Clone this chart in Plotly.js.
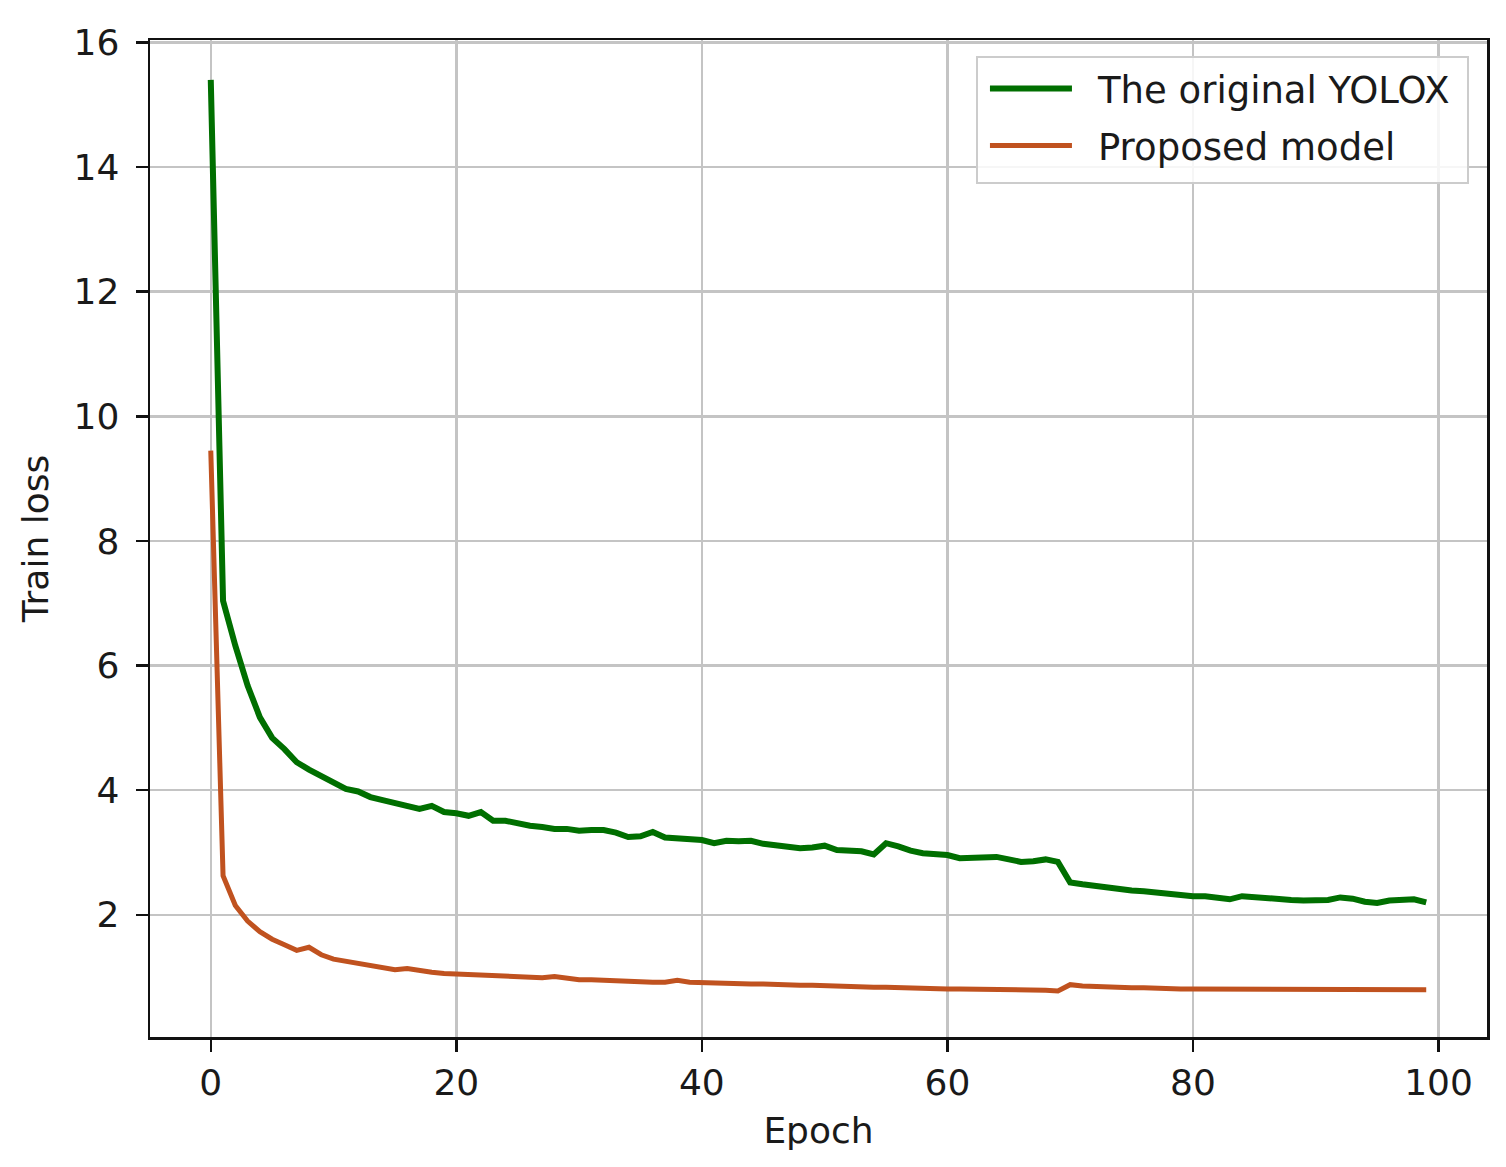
<!DOCTYPE html>
<html>
<head>
<meta charset="utf-8">
<script src="https://cdn.plot.ly/plotly-3.0.1.min.js"></script>
<style>html,body{margin:0;padding:0;background:#fff;}#chart{width:1506px;height:1167px;}</style>
</head>
<body>
<div id="chart"></div>
<script>
const epochs = Array.from({length: 100}, (_, i) => i);

const yoloxLoss = [
  15.40, 7.04, 6.32, 5.68, 5.17, 4.84, 4.66, 4.45, 4.33, 4.22,
  4.13, 4.02, 3.98, 3.89, 3.84, 3.80, 3.74, 3.70, 3.75, 3.65,
  3.63, 3.59, 3.65, 3.51, 3.51, 3.46, 3.43, 3.41, 3.38, 3.38,
  3.35, 3.36, 3.36, 3.32, 3.25, 3.26, 3.33, 3.24, 3.22, 3.21,
  3.20, 3.15, 3.19, 3.18, 3.19, 3.14, 3.12, 3.08, 3.07, 3.08,
  3.11, 3.04, 3.04, 3.02, 2.97, 3.15, 3.10, 3.03, 2.99, 2.98,
  2.96, 2.91, 2.91, 2.93, 2.93, 2.89, 2.85, 2.86, 2.89, 2.85,
  2.52, 2.49, 2.46, 2.43, 2.41, 2.39, 2.38, 2.36, 2.34, 2.31,
  2.30, 2.30, 2.28, 2.25, 2.30, 2.28, 2.27, 2.26, 2.24, 2.23,
  2.23, 2.24, 2.28, 2.26, 2.21, 2.19, 2.23, 2.24, 2.25, 2.20
];

const proposedLoss = [
  9.45, 2.63, 2.15, 1.90, 1.73, 1.61, 1.52, 1.43, 1.48, 1.36,
  1.29, 1.26, 1.21, 1.18, 1.15, 1.12, 1.14, 1.10, 1.08, 1.06,
  1.05, 1.04, 1.03, 1.02, 1.00, 0.99, 0.99, 0.99, 1.01, 0.98,
  0.96, 0.96, 0.95, 0.94, 0.93, 0.93, 0.92, 0.92, 0.95, 0.92,
  0.91, 0.91, 0.90, 0.90, 0.89, 0.89, 0.88, 0.88, 0.87, 0.87,
  0.86, 0.86, 0.85, 0.85, 0.84, 0.84, 0.83, 0.82, 0.82, 0.81,
  0.81, 0.81, 0.81, 0.80, 0.80, 0.80, 0.80, 0.80, 0.79, 0.78,
  0.88, 0.86, 0.85, 0.84, 0.84, 0.83, 0.83, 0.82, 0.82, 0.81,
  0.81, 0.81, 0.80, 0.81, 0.80, 0.80, 0.80, 0.79, 0.79, 0.79,
  0.79, 0.79, 0.80, 0.80, 0.80, 0.80, 0.80, 0.81, 0.80, 0.80
];

const seriesNames = ["The original YOLOX", "Proposed model"];
const xTickVals = [0, 20, 40, 60, 80, 100];
const yTickVals = [2, 4, 6, 8, 10, 12, 14, 16];

const FONT = "DejaVu Sans, sans-serif";
const TXT = "#1a1a1a";

const traces = [
  {x: epochs, y: yoloxLoss, name: seriesNames[0], type: "scatter", mode: "lines",
   legendgroup: "a", line: {color: "#006f00", width: 6}},
  {x: epochs, y: proposedLoss, name: seriesNames[1], type: "scatter", mode: "lines",
   legendgroup: "b", line: {color: "#c0521f", width: 5}}
];

const axisCommon = {
  showline: true, mirror: true, linecolor: "#111", linewidth: 2.5,
  ticks: "outside", ticklen: 12, tickwidth: 2.5, tickcolor: "#111",
  showgrid: true, gridcolor: "#c4c4c4", gridwidth: 2.5,
  zeroline: false,
  tickfont: {family: FONT, size: 36, color: TXT}
};

const layout = {
  width: 1506, height: 1167,
  margin: {l: 150, r: 19, t: 40, b: 130},
  paper_bgcolor: "#fff", plot_bgcolor: "#fff",
  font: {family: FONT, size: 36, color: TXT},
  xaxis: Object.assign({}, axisCommon, {
    range: [-4.95, 103.95], tickvals: xTickVals,
    title: {text: "Epoch", font: {family: FONT, size: 36, color: TXT}, standoff: 16}
  }),
  yaxis: Object.assign({}, axisCommon, {
    range: [0.04, 16.04], tickvals: yTickVals, ticklabelstandoff: 9,
    title: {text: "Train loss", font: {family: FONT, size: 36, color: TXT}, standoff: 14}
  }),
  showlegend: true,
  legend: {
    x: 0.9865, xanchor: "right", y: 0.984, yanchor: "top",
    bgcolor: "rgba(255,255,255,0.85)", bordercolor: "#cccccc", borderwidth: 2,
    font: {family: FONT, size: 37, color: TXT},
    itemwidth: 82, indentation: 7,
    traceorder: "grouped", tracegroupgap: 6
  }
};

Plotly.newPlot("chart", traces, layout, {staticPlot: true, displayModeBar: false}).then(function (gd) {
  // matplotlib-style gap between the legend line sample and its label, and wider padding
  const textShift = 21, widthAdd = 32, extraH = 5;
  const legend = gd.querySelector("g.legend");
  if (!legend) return;
  legend.querySelectorAll("text.legendtext").forEach(function (t) {
    t.setAttribute("x", parseFloat(t.getAttribute("x") || 0) + textShift);
  });
  legend.querySelectorAll("g.traces").forEach(function (g) {
    // shift every entry right by the added width so the box grows leftwards
    const tm = /translate\(\s*([-\d.]+)[ ,]+([-\d.]+)\s*\)/.exec(g.getAttribute("transform") || "");
    if (tm) g.setAttribute("transform", "translate(" + (parseFloat(tm[1])) + "," + tm[2] + ")");
  });
  const bg = legend.querySelector("rect.bg");
  if (bg) {
    bg.setAttribute("width", parseFloat(bg.getAttribute("width")) + widthAdd);
    bg.setAttribute("height", parseFloat(bg.getAttribute("height")) + extraH);
  }
  const m = /translate\(\s*([-\d.]+)[ ,]+([-\d.]+)\s*\)/.exec(legend.getAttribute("transform") || "");
  if (m) legend.setAttribute("transform", "translate(" + (parseFloat(m[1]) - widthAdd) + "," + m[2] + ")");
  gd.querySelectorAll("clipPath rect").forEach(function (r) {
    const cp = r.parentNode;
    if (cp && cp.id && cp.id.indexOf("legend") === 0) {
      r.setAttribute("width", parseFloat(r.getAttribute("width")) + widthAdd);
      r.setAttribute("height", parseFloat(r.getAttribute("height")) + extraH);
    }
  });
});
</script>
</body>
</html>
